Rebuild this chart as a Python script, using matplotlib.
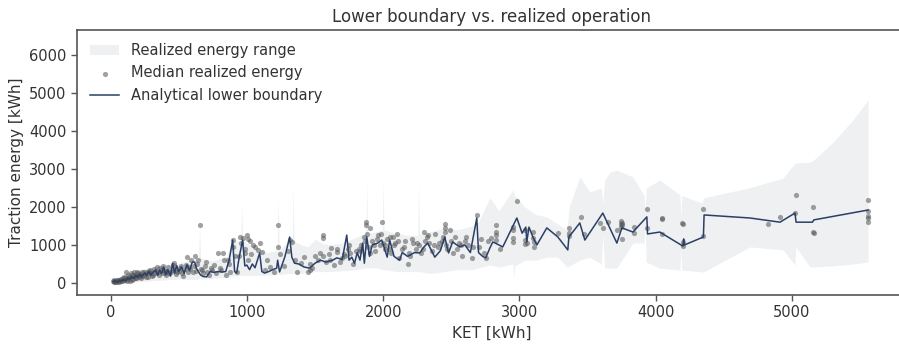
import matplotlib
matplotlib.use("Agg")
import matplotlib.pyplot as plt
import numpy as np

# analytical lower boundary per KET [kWh]
ket = [20, 35, 50, 65, 80, 95, 110, 125, 140, 155, 170, 185, 200, 215, 230, 250, 265, 280, 295, 310,
       330, 345, 360, 375, 390, 405, 420, 440, 455, 470, 485, 500, 520, 540, 560, 580, 600, 617, 630, 645,
       660, 680, 705, 730, 760, 790, 822, 845, 870, 896, 910, 925, 945, 969, 985, 1000, 1020, 1040, 1060, 1094,
       1110, 1130, 1160, 1190, 1219, 1226, 1240, 1280, 1314, 1330, 1350, 1380, 1420, 1461, 1500, 1540, 1580, 1630, 1659, 1700,
       1733, 1750, 1770, 1790, 1810, 1830, 1850, 1862, 1880, 1900, 1920, 1960, 1990, 2030, 2048, 2080, 2120, 2140, 2180, 2230,
       2269, 2300, 2327, 2379, 2420, 2452, 2480, 2510, 2560, 2600, 2640, 2687, 2700, 2730, 2753, 2783, 2805, 2878, 2981, 3020,
       3047, 3054, 3070, 3100, 3128, 3201, 3282, 3355, 3363, 3443, 3480, 3612, 3715, 3752, 3833, 3935, 3940, 4030, 4200, 4205,
       4210, 4350, 4355, 4692, 4912, 5022, 5030, 5150, 5160, 5558]
lower = [30, 60, 20, 70, 50, 90, 60, 130, 100, 170, 120, 200, 150, 230, 170, 260, 200, 300, 210, 280,
         340, 200, 330, 250, 420, 220, 350, 180, 520, 260, 460, 300, 420, 250, 480, 330, 550, 550, 380, 300,
         210, 170, 160, 300, 280, 300, 290, 300, 600, 1130, 300, 260, 700, 1130, 450, 470, 350, 500, 400, 790,
         300, 260, 300, 350, 390, 600, 290, 700, 1210, 680, 520, 500, 420, 390, 520, 600, 550, 600, 660, 620,
         1260, 600, 680, 520, 800, 600, 1050, 520, 1210, 700, 1000, 1050, 1130, 680, 1130, 700, 600, 800, 700, 800,
         790, 950, 1050, 680, 850, 1210, 790, 1080, 950, 1000, 800, 1710, 800, 700, 660, 920, 1080, 950, 1710, 1310,
         1470, 1080, 1470, 1200, 1000, 1450, 1210, 870, 1210, 1580, 1130, 1840, 1050, 1450, 1340, 1740, 1290, 1340, 970, 1160,
         1000, 1210, 1790, 1710, 1600, 1840, 1600, 1600, 1660, 1920]

# realized energy range (min / max over runs)
rng_ket = [15, 100, 200, 300, 400, 500, 600, 645, 653, 661, 750, 850, 900, 955, 962, 969, 1050, 1150, 1222, 1230,
           1238, 1300, 1334, 1340, 1346, 1400, 1450, 1500, 1550, 1600, 1700, 1800, 1874, 1880, 1886, 1950, 1994, 2000, 2006, 2100,
           2200, 2254, 2260, 2266, 2350, 2450, 2550, 2650, 2700, 2783, 2850, 2952, 2958, 2965, 3040, 3120, 3200, 3282, 3348, 3365,
           3443, 3517, 3600, 3612, 3625, 3664, 3715, 3833, 3915, 3922, 3930, 4030, 4178, 4185, 4192, 4340, 4352, 4692, 4935, 5022,
           5028, 5132, 5160, 5300, 5450, 5558]
rng_lo = [0, 0, 30, 60, 80, 100, 90, 100, 150, 100, 120, 150, 180, 200, 200, 200, 200, 200, 220, 250,
          220, 250, 250, 250, 250, 250, 300, 300, 300, 300, 320, 350, 400, 400, 400, 400, 350, 350, 350, 300,
          300, 300, 300, 300, 250, 300, 350, 350, 400, 470, 420, 500, 80, 450, 600, 600, 680, 680, 420, 450,
          600, 680, 500, 1300, 400, 390, 390, 1050, 1050, 1600, 550, 390, 340, 900, 340, 290, 290, 950, 870, 470,
          950, 420, 420, 450, 500, 550]
rng_hi = [60, 220, 330, 420, 480, 520, 620, 650, 1470, 650, 580, 700, 1100, 1100, 2100, 1100, 950, 800, 850, 2180,
          850, 1100, 1100, 2600, 1100, 1000, 950, 1150, 1050, 1000, 1050, 1200, 1300, 2700, 1300, 1350, 1400, 2710, 1400, 1300,
          1250, 1250, 2630, 1300, 1350, 1450, 1400, 1500, 1600, 2240, 1900, 2450, 2400, 2300, 2000, 1800, 1740, 1550, 1390, 2000,
          2790, 2400, 2500, 2100, 2700, 2920, 2970, 2790, 2300, 1800, 2500, 2710, 2320, 1700, 2300, 2100, 2240, 2510, 2760, 3150,
          3160, 3180, 3240, 3700, 4300, 4820]

# median realized energy per route
med_ket = [20, 25, 30, 40, 50, 55, 65, 70, 80, 90, 100, 110, 115, 125, 135, 145, 155, 165, 170, 180,
           190, 200, 210, 220, 230, 240, 255, 265, 275, 285, 300, 310, 320, 335, 350, 365, 380, 395, 410, 425,
           440, 455, 470, 480, 500, 515, 530, 545, 560, 575, 590, 605, 620, 635, 653, 660, 680, 700, 720, 745,
           760, 786, 800, 822, 835, 850, 870, 896, 900, 925, 940, 960, 970, 985, 1000, 1005, 1010, 1030, 1045, 1060,
           1080, 1094, 1110, 1130, 1150, 1170, 1200, 1226, 1226, 1240, 1270, 1300, 1314, 1330, 1350, 1370, 1400, 1420, 1445, 1461,
           1461, 1480, 1500, 1520, 1540, 1557, 1557, 1580, 1600, 1620, 1640, 1660, 1680, 1700, 1720, 1740, 1760, 1780, 1800, 1820,
           1840, 1860, 1872, 1872, 1880, 1890, 1900, 1920, 1940, 1960, 1975, 1990, 2000, 2010, 2030, 2048, 2060, 2080, 2100, 2120,
           2140, 2160, 2180, 2200, 2220, 2240, 2260, 2280, 2300, 2320, 2340, 2360, 2380, 2400, 2430, 2452, 2452, 2452, 2470, 2490,
           2510, 2530, 2560, 2580, 2600, 2620, 2650, 2687, 2700, 2720, 2740, 2753, 2770, 2790, 2827, 2827, 2827, 2827, 2860, 2952,
           2952, 2952, 2952, 2981, 3040, 3040, 3040, 3054, 3100, 3100, 3110, 3110, 3282, 3363, 3363, 3363, 3451, 3473, 3590, 3612,
           3650, 3715, 3744, 3744, 3744, 3750, 3750, 3750, 3840, 3840, 3935, 3935, 4045, 4045, 4045, 4190, 4200, 4200, 4200, 4350,
           4350, 4824, 4912, 5030, 5022, 5155, 5155, 5160, 5558, 5558, 5558, 5558, 5558,
           22, 28, 45, 60, 75, 85, 95, 105, 120, 130, 140, 150, 160, 175, 185, 195, 205, 215, 225, 245,
           260, 280, 290, 305, 325, 340, 355, 370, 385, 400, 415, 430, 450, 465, 490, 510, 525, 550, 565, 585,
           610, 625, 640, 670, 690, 710, 735, 770, 810, 860, 880, 915, 950, 990, 1020,
           1560, 1610, 1660, 1710, 1750, 1830, 1870, 1905, 1930, 1955, 1985, 2015, 2040, 2070, 2090, 2110, 2150, 2190, 2210, 2250,
           2290, 2310, 2330, 2370, 2410, 2440, 2460, 2500, 2540, 2570, 2610, 2660]
med_val = [40, 70, 20, 60, 30, 90, 50, 80, 40, 120, 70, 130, 280, 100, 160, 60, 200, 110, 280, 180,
           140, 260, 200, 120, 290, 180, 230, 300, 150, 320, 250, 200, 370, 310, 280, 400, 260, 350, 200, 430,
           300, 480, 380, 240, 320, 450, 180, 360, 680, 420, 600, 300, 720, 500, 1530, 380, 250, 560, 200, 350,
           480, 790, 400, 790, 600, 220, 500, 950, 1130, 300, 700, 1050, 1180, 900, 1260, 1150, 600, 750, 1000, 950,
           880, 1050, 820, 350, 600, 420, 300, 1530, 950, 750, 450, 850, 1130, 1080, 600, 300, 520, 680, 300, 500,
           350, 400, 720, 600, 800, 1260, 1180, 550, 750, 920, 480, 820, 550, 650, 700, 900, 780, 500, 850, 900,
           1000, 1200, 1610, 1530, 1300, 950, 780, 1100, 850, 1250, 1000, 1600, 1050, 900, 1150, 1200, 800, 1000, 1300, 650,
           900, 1100, 500, 700, 1050, 900, 1000, 800, 1350, 1200, 1050, 850, 1300, 950, 1100, 1550, 1450, 1350, 900, 1400,
           800, 1200, 1050, 700, 1100, 1000, 650, 1780, 950, 1150, 800, 650, 1100, 1180, 1530, 1340, 1260, 1130, 890, 1470,
           1390, 1180, 1080, 2160, 1390, 1130, 1030, 1050, 1340, 1180, 1080, 950, 1320, 1450, 1320, 1240, 1740, 1290, 1580, 1450,
           1610, 1390, 1630, 1550, 1470, 1160, 1580, 1530, 1470, 1320, 1950, 1450, 1710, 1680, 1290, 1580, 1550, 1080, 970, 1950,
           1240, 1550, 1740, 2320, 1840, 2000, 1340, 1320, 2180, 1900, 1760, 1710, 1600,
           20, 50, 80, 30, 110, 60, 150, 90, 60, 200, 120, 250, 90, 220, 130, 300, 160, 240, 190, 300,
           150, 250, 350, 180, 260, 420, 200, 330, 450, 260, 310, 250, 350, 520, 300, 400, 250, 470, 300, 380,
           450, 320, 600, 350, 450, 300, 400, 250, 350, 600, 300, 700, 1200, 800, 1100,
           700, 600, 900, 750, 1000, 850, 1100, 1450, 1000, 1150, 1300, 1000, 900, 1200, 1050, 1100, 950, 800, 1150, 1050,
           900, 1100, 1250, 1000, 1050, 1200, 1000, 1100, 900, 1000, 1200, 950]

fig = plt.figure(figsize=(8.99, 3.45), dpi=100)
ax = fig.add_axes([0.0857, 0.145, 0.922, 0.768])

ax.fill_between(rng_ket, rng_lo, rng_hi, color="#eef0f2", linewidth=0, label="Realized energy range")
ax.scatter(med_ket, med_val, s=14, color="#555555", alpha=0.55, linewidths=0, label="Median realized energy")
ax.plot(ket, lower, color="#2b3f66", linewidth=1.1, label="Analytical lower boundary")

ax.set_xlim(-246, 5836)
ax.set_ylim(-316, 6658)
ax.set_xticks([0, 1000, 2000, 3000, 4000, 5000])
ax.set_yticks([0, 1000, 2000, 3000, 4000, 5000, 6000])

for s in ax.spines.values():
    s.set_color("#555555")
    s.set_linewidth(1.2)
ax.tick_params(colors="#555555", labelcolor="#333333", labelsize=10.5, width=1.0, length=4)

ax.set_xlabel("KET [kWh]", fontsize=11, color="#333333")
ax.set_ylabel("Traction energy [kWh]", fontsize=11, color="#333333")
ax.set_title("Lower boundary vs. realized operation", fontsize=12, color="#333333")

ax.legend(loc="upper left", frameon=False, fontsize=10.5, labelcolor="#333333")

fig.savefig("out.png", dpi=100)
